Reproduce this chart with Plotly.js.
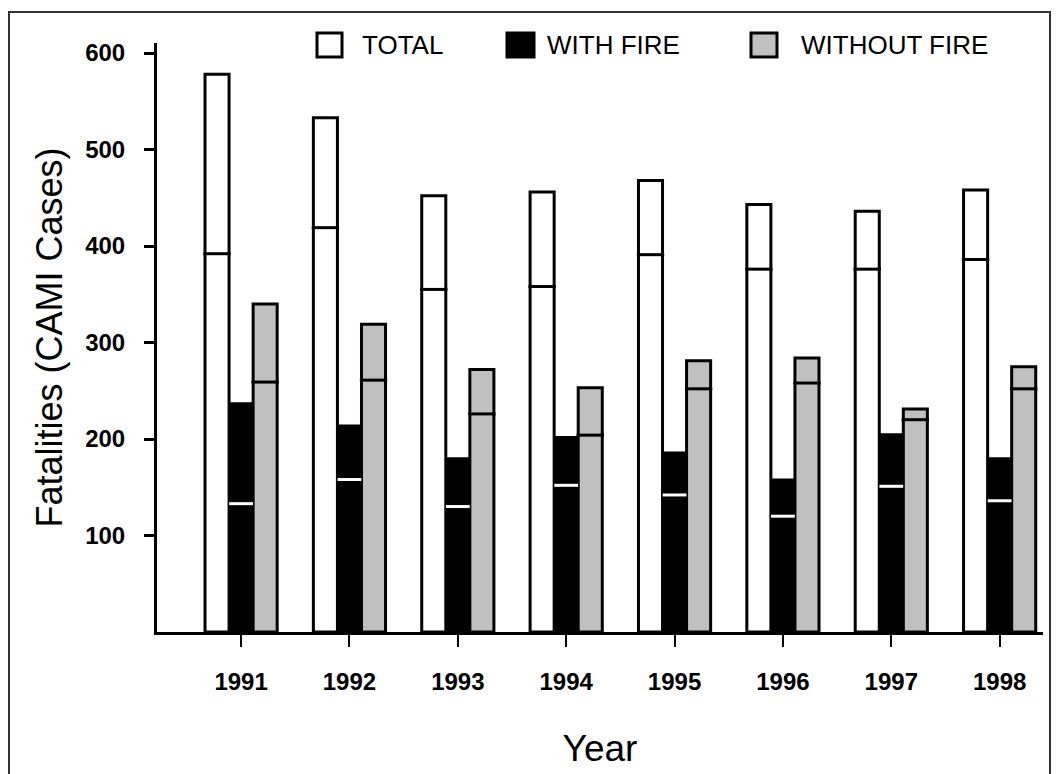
<!DOCTYPE html>
<html><head><meta charset="utf-8">
<script src="https://cdn.plot.ly/plotly-3.0.1.min.js"></script>
<style>html,body{margin:0;padding:0;background:#fff}#chart{width:1058px;height:774px}</style>
</head><body><div id="chart"></div>
<script>
// ---- data ----
const years = ['1991', '1992', '1993', '1994', '1995', '1996', '1997', '1998'];
const total = [578, 533, 452, 456, 468, 443, 436, 458];
const withFire = [238, 215, 181, 203, 187, 159, 206, 181];
const withoutFire = [340, 319, 272, 253, 281, 284, 231, 275];
// inner marks drawn inside each bar
const totalMark = [392, 419, 355, 358, 391, 376, 376, 386];
const withFireMark = [133, 158, 130, 152, 142, 120, 151, 136];
const withoutFireMark = [259, 261, 226, 204, 252, 258, 220, 252];
const yTicks = [100, 200, 300, 400, 500, 600];
const seriesNames = ['TOTAL', 'WITH FIRE', 'WITHOUT FIRE'];

// ---- layout helpers ----
const FIG_W = 1058, FIG_H = 774;
const M = {l: 157, r: 15, t: 43, b: 142};
const PW = FIG_W - M.l - M.r, PH = FIG_H - M.t - M.b;
const px2x = p => (p - M.l) / PW;
const py2y = p => (FIG_H - M.b - p) / PH;

const idx = years.map((_, i) => i);
const BW = 0.222;
const offsets = [-1.5 * BW, -0.5 * BW, 0.5 * BW];
const fills = ['#ffffff', '#000000', '#c0c0c0'];
const lineW = [3, 0, 3];
const markColors = ['#000000', '#ffffff', '#000000'];
const markSize = [19.5, 17, 19.5];   // line-ew length = 1.4 * size
const values = [total, withFire, withoutFire];
const marks = [totalMark, withFireMark, withoutFireMark];

const traces = [];
values.forEach((vals, k) => {
  traces.push({
    type: 'bar', name: seriesNames[k], x: idx, y: vals,
    width: BW, offset: offsets[k],
    marker: {color: fills[k], line: {color: '#000', width: lineW[k]}},
    showlegend: false, hoverinfo: 'y'
  });
});
marks.forEach((vals, k) => {
  traces.push({
    type: 'scatter', mode: 'markers', name: seriesNames[k] + ' mark',
    x: idx.map(i => i + offsets[k] + BW / 2), y: vals,
    marker: {symbol: 'line-ew', size: markSize[k], color: markColors[k],
             line: {color: markColors[k], width: 3}},
    showlegend: false, hoverinfo: 'skip', cliponaxis: false
  });
});

const FONT = 'Liberation Sans, Arial, Helvetica, sans-serif';

// manual legend (boxes + text)
const legendBoxes = [[317, 342], [507, 534], [751, 777]];
const legendText = [360, 545, 799];
const shapes = [{
  type: 'rect', xref: 'paper', yref: 'paper',
  x0: px2x(9), x1: px2x(1050), y0: py2y(790), y1: py2y(12),
  line: {color: '#333', width: 2}, fillcolor: 'rgba(0,0,0,0)', layer: 'below'
}];
const annotations = [];
seriesNames.forEach((nm, k) => {
  shapes.push({
    type: 'rect', xref: 'paper', yref: 'paper',
    x0: px2x(legendBoxes[k][0]), x1: px2x(legendBoxes[k][1]),
    y0: py2y(57), y1: py2y(33),
    line: {color: '#000', width: 3}, fillcolor: fills[k]
  });
  annotations.push({
    xref: 'paper', yref: 'paper', x: px2x(legendText[k]), y: py2y(45),
    xanchor: 'left', yanchor: 'middle', showarrow: false, text: nm,
    font: {family: FONT, size: 26, color: '#000'}
  });
});

const layout = {
  width: FIG_W, height: FIG_H,
  margin: M,
  paper_bgcolor: '#fff', plot_bgcolor: '#fff',
  barmode: 'overlay',
  showlegend: false,
  font: {family: FONT, color: '#000'},
  xaxis: {
    range: [-0.776, 7.40], tickvals: idx, ticktext: years,
    showline: true, linecolor: '#000', linewidth: 3,
    ticks: 'outside', ticklen: 12, tickwidth: 2, tickcolor: '#000',
    showgrid: false, zeroline: false, ticklabelstandoff: 14,
    tickfont: {family: FONT, size: 24, weight: 'bold', color: '#000'},
    title: {text: 'Year', font: {family: FONT, size: 37, color: '#000'}, standoff: 42}
  },
  yaxis: {
    range: [0, PH / 0.965], tickvals: yTicks,
    showline: true, linecolor: '#000', linewidth: 3,
    ticks: 'outside', ticklen: 10, tickwidth: 3, tickcolor: '#000',
    showgrid: false, zeroline: false, ticklabelstandoff: 14,
    tickfont: {family: FONT, size: 24, weight: 'bold', color: '#000'},
    title: {text: 'Fatalities (CAMI Cases)', font: {family: FONT, size: 36, color: '#000'}, standoff: 12}
  },
  shapes: shapes,
  annotations: annotations
};

Plotly.newPlot('chart', traces, layout, {displayModeBar: false, staticPlot: true});
</script>
</body></html>
